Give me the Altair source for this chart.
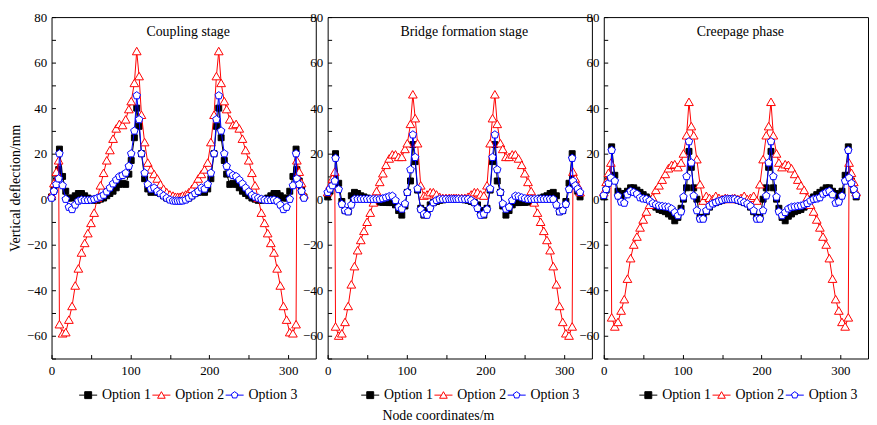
import altair as alt
import pandas as pd

FONT = "Liberation Serif"

NODE_X = [0, 3, 6, 9, 10, 14, 18, 22, 26, 30, 34, 38, 42, 46, 50, 54, 58, 62, 66, 70, 74, 78, 82, 86, 90, 94, 98,
          101, 105, 108, 111, 114, 118, 122, 126, 130, 134, 138, 142, 146, 150, 154, 157, 160,
          163, 166, 170, 174, 178, 182, 186, 190, 194, 198, 202, 206, 209, 212, 215, 219, 222, 226, 230, 234,
          238, 242, 246, 250, 254, 258, 262, 266, 270, 274, 278, 282, 286, 290, 294, 298, 302, 306, 310, 311,
          314, 317, 320]

# Coupling stage
P1_OPT1 = [1, 4, 8, 13, 22, 10, 3.5, 0.5, 0.5, 1.5, 2.5, 2.5, 1.5, 0.5, 0, -0.5, -0.5, 0, 0.5, 1.5, 2.5, 3.5, 5,
           6.5, 7, 6.5, 11, 17, 27, 40, 32, 20, 9, 4.5, 3, 3.5, 3, 2.5, 1.5, 0.5, 0, -0.3, -0.5,
           -0.5,
           -0.5, -0.3, 0, 0.5, 1.5, 2.5, 3, 3.5, 3, 4.5, 9, 20, 32, 40, 27, 17, 11, 6.5, 7, 6.5, 5, 3.5, 2.5, 1.5,
           0.5, 0, -0.5, -0.5, 0, 0.5, 1.5, 2.5, 2.5, 1.5, 0.5, 0.5, 3.5, 10, 22, 13, 8, 4, 1]
P1_OPT2 = [2, 7, 12, 17, -55, -59, -58.5, -53, -47, -38, -30.5, -23.5, -19.3, -15, -10.5, -6, 0.5, 6, 11.5, 17,
           21.5, 26.5, 31, 33, 32.5, 35, 39.5, 43, 51, 65, 54, 37, 25, 16, 13, 11, 9, 6.5, 4.5, 3, 2, 1.5, 1,
           1,
           1, 1.5, 2, 3, 4.5, 6.5, 9, 11, 13, 16, 25, 37, 54, 65, 51, 43, 39.5, 35, 32.5, 33, 31, 26.5, 21.5, 17,
           11.5, 6, 0.5, -6, -10.5, -15, -19.3, -23.5, -30.5, -38, -47, -53, -58.5, -59, -55, 17, 12, 7, 2]
P1_OPT3 = [0.5, 3.5, 6.5, 9, 20, 6, 0, -3.5, -4.5, -2.5, -0.8, -0.3, -0.5, -0.5, -0.3, 0, 0.5, 1, 1.8, 3.3, 5,
           6.8, 8.5, 10, 10.5, 11.5, 14.5, 20, 30, 45.5, 35, 20, 11.5, 6.5, 4.5, 5, 3.5, 2.5, 1.5, 0.5, -0.3,
           -0.7, -0.8,
           -0.8,
           -0.8, -0.7, -0.3, 0.5, 1.5, 2.5, 3.5, 5, 4.5, 6.5, 11.5, 20, 35, 45.5, 30, 20, 14.5, 11.5, 10.5, 10,
           8.5, 6.8, 5, 3.3, 1.8, 1, 0.5, 0, -0.3, -0.5, -0.5, -0.3, -0.8, -2.5, -4.5, -3.5, 0, 6, 20, 9, 6.5,
           3.5, 0.5]

# Bridge formation stage
P2_OPT1 = [1, 3.5, 7, 10, 20, 7, -1, -5, -5.5, 1.5, 3, 2.5, 1.5, 1, 0.5, 0, -0.5, -1, -1.3, -1.4, -1.4, -1.5,
           -1.5, -2.5, -5, -7, -3, 3, 8, 24, 16.5, 4, -4, -7, -5, -2.5, -1.5, -1, -0.5, -0.3, 0, 0, 0,
           0,
           0, 0, 0, -0.3, -0.5, -1, -1.5, -2.5, -5, -7, -4, 4, 16.5, 24, 8, 3, -3, -7, -5, -2.5, -1.5, -1.5,
           -1.4, -1.4, -1.3, -1, -0.5, 0, 0.5, 1, 1.5, 2.5, 3, 1.5, -5.5, -5, -1, 7, 20, 10, 7, 3.5, 1]
P2_OPT2 = [3, 6, 9, 12, -56, -60, -59, -54, -47, -37.5, -29.5, -22.5, -18, -14, -10, -6, -1.5, 3.5, 7.5, 11.3,
           15, 17.8, 19.6, 19.6, 18.5, 18.5, 22, 24.5, 33, 46, 35.5, 24.5, 6, 1.5, 2, 3, 3, 2, 1, 0.5, 0.5, 0.5,
           0.5,
           0.5,
           0.5, 0.5, 0.5, 0.5, 1, 2, 3, 3, 2, 1.5, 6, 24.5, 35.5, 46, 33, 24.5, 22, 18.5, 18.5, 19.6, 19.6, 17.8,
           15, 11.3, 7.5, 3.5, -1.5, -6, -10, -14, -18, -22.5, -29.5, -37.5, -47, -54, -59, -60, -56, 12, 9, 6, 3]
P2_OPT3 = [3, 4.5, 6, 8, 18, 4.3, -2.2, -5, -5.5, -2.5, 0, 0, 0, 0, 0, 0, 0, 0, 0, 0.3, 0.7, 1.2, 1.4, -0.5,
           -3.5, -4.3, -2, 3, 13, 28.3, 18.4, 4.6, -4.5, -6.5, -7, -4, -1.5, -0.5, 0, 0, 0, 0, 0,
           0,
           0, 0, 0, 0, 0, -0.5, -1.5, -4, -7, -6.5, -4.5, 4.6, 18.4, 28.3, 13, 3, -2, -4.3, -3.5, -0.5, 1.4, 1.2,
           0.7, 0.3, 0, 0, 0, 0, 0, 0, 0, 0, 0, -2.5, -5.5, -5, -2.2, 4.3, 18, 8, 6, 4.5, 3]

# Creepage phase
P3_OPT1 = [1, 4, 8, 10.5, 23, 10.5, 3.5, 0, 2.5, 3.5, 5, 5, 4, 3, 2, 1, 0, -1.5, -3.5, -4.5, -5, -5.5, -6.5,
           -7.5, -9.5, -8, -4, 0, 5, 21, 14, 5, 0, -8, -8, -5.5, -3.5, -2, -1.5, -1, -0.5, 0, 0,
           0,
           0, 0, -0.5, -1, -1.5, -2, -3.5, -5.5, -8, -8, 0, 5, 14, 21, 5, 0, -4, -8, -9.5, -7.5, -6.5, -5.5, -5,
           -4.5, -3.5, -1.5, 0, 1, 2, 3, 4, 5, 5, 3.5, 2.5, 0, 3.5, 10.5, 23, 10.5, 8, 4, 1]
P3_OPT2 = [3, 7.5, 11.5, 16, -52, -56, -54, -49, -44, -35, -26, -20, -16.5, -12.5, -9, -5.5, -2.5, 0.7, 4, 6,
           8.5, 11, 13.5, 15, 15.3, 14, 16, 20, 28, 42.7, 32, 28, 17.5, 6.5, -0.7, 1.4, 0.5, 0, 1.4, 0.5, 0, 0.5,
           0.3,
           0,
           0.3, 0.5, 0, 0.5, 1.4, 0, 0.5, 1.4, -0.7, 6.5, 17.5, 28, 32, 42.7, 28, 20, 16, 14, 15.3, 15, 13.5, 11,
           8.5, 6, 4, 0.7, -2.5, -5.5, -9, -12.5, -16.5, -20, -26, -35, -44, -49, -54, -56, -52, 16, 11.5, 7.5, 3]
P3_OPT3 = [1.7, 4.3, 7, 9.4, 21.5, 8, 1.4, -1.2, -1.7, 2, 3.5, 3, 2.3, 0.7, 0.2, 0, -0.7, -1.8, -2.4, -2.9,
           -3.1, -3.3, -3.5, -4.2, -5.8, -7.2, -5.5, 1, 10, 25.3, 16, 1.5, -5, -8.7, -8.7, -5, -3, -2, -1.4, -0.8,
           -0.4, 0, 0,
           0,
           0, 0, -0.4, -0.8, -1.4, -2, -3, -5, -8.7, -8.7, -5, 1.5, 16, 25.3, 10, 1, -5.5, -7.2, -5.8, -4.2,
           -3.5, -3.3, -3.1, -2.9, -2.4, -1.8, -0.7, 0, 0.2, 0.7, 2.3, 3, 3.5, 2, -1.7, -1.2, 1.4, 8, 21.5, 9.4,
           7, 4.3, 1.7]

PANEL_TITLES = ["Coupling stage", "Bridge formation stage", "Creepage phase"]
SERIES = ["Option 1", "Option 2", "Option 3"]
COLORS = ["#000000", "#ff0000", "#0000ff"]
FILLS = ["#000000", "#ffffff", "#ffffff"]
X_TICKS = [0, 50, 100, 150, 200, 250, 300]
Y_TICKS = [-70, -60, -50, -40, -30, -20, -10, 0, 10, 20, 30, 40, 50, 60, 70, 80]
LEGEND_X = [30, 36, 38]

SQ = "M-1,-1H1V1H-1Z"
TRI = "M0,-1L1.1,0.9H-1.1Z"
PENT = "M0,-1L0.951,-0.309L0.588,0.809L-0.588,0.809L-0.951,-0.309Z"
SHAPES = [SQ, TRI, PENT]
SIZES = [36, 64, 64]
LEG_SHAPES = ["M-2.6,0H-1M1,0H2.6" + SQ, "M-2.6,0H-0.58M0.58,0H2.6" + TRI, "M-2.6,0H-0.85M0.85,0H2.6" + PENT]

W, H = 267, 345


def panel(k, vals, first):
    frames = []
    for s, v in zip(SERIES, vals):
        assert len(v) == len(NODE_X), (s, len(v))
        frames.append(pd.DataFrame({"x": NODE_X, "y": v, "series": s, "order": list(range(len(NODE_X)))}))
    df = pd.concat(frames, ignore_index=True)
    base = alt.Chart(df)
    xenc = alt.X("x:Q", scale=alt.Scale(domain=[0, 335], nice=False, zero=False),
                 axis=alt.Axis(values=X_TICKS, labelExpr="datum.value % 100 == 0 ? datum.label : ''",
                               tickSize=4, offset=-4, domain=False, grid=False, labelPadding=6,
                               labelFlush=False, labelFont=FONT, labelFontSize=13, labelColor="#000"),
                 title=None)
    yaxis = alt.Axis(values=Y_TICKS, labelExpr="datum.value % 20 == 0 ? datum.label : ''",
                     tickSize=4, offset=-4, domain=False, grid=False, labelPadding=5, titlePadding=4,
                     labelFont=FONT, labelFontSize=13, labelColor="#000", titleFont=FONT,
                     titleFontSize=14, titleFontWeight="normal", titleColor="#000")
    yenc = alt.Y("y:Q", scale=alt.Scale(domain=[-70, 80], nice=False, zero=False), axis=yaxis,
                 title="Vertical deflection/mm" if first else None)
    layers = []
    for s, c, f, sh, sz in zip(SERIES, COLORS, FILLS, SHAPES, SIZES):
        sub = base.transform_filter(alt.datum.series == s)
        layers.append(sub.mark_line(color=c, strokeWidth=1).encode(x=xenc, y=yenc, order="order:Q"))
        layers.append(sub.mark_point(shape=sh, filled=True, fill=f, stroke=c, strokeWidth=1, size=sz,
                                     opacity=1).encode(x=xenc, y=yenc))
    ttl = alt.Chart(pd.DataFrame({"t": [PANEL_TITLES[k]]})).mark_text(
        font=FONT, fontSize=14, color="#000", baseline="middle", align="center"
    ).encode(text="t:N", x=alt.value(138), y=alt.value(15))
    leg = alt.Legend(orient="none", legendX=LEGEND_X[k], legendY=375, direction="horizontal", title=None,
                     labelFont=FONT, labelFontSize=14, labelColor="#000", symbolSize=49,
                     symbolStrokeWidth=1, symbolOpacity=1, labelOffset=7, columnPadding=-2, padding=0,
                     labelLimit=0)
    legend_layer = base.transform_filter("false").mark_point(filled=True, opacity=1, size=49).encode(
        shape=alt.Shape("series:N", scale=alt.Scale(domain=SERIES, range=LEG_SHAPES), legend=leg),
        stroke=alt.Stroke("series:N", scale=alt.Scale(domain=SERIES, range=COLORS), legend=leg),
        fill=alt.Fill("series:N", scale=alt.Scale(domain=SERIES, range=FILLS), legend=leg),
    )
    return alt.layer(*layers, ttl, legend_layer).properties(width=W, height=H)


p1 = panel(0, [P1_OPT1, P1_OPT2, P1_OPT3], True)
p2 = panel(1, [P2_OPT1, P2_OPT2, P2_OPT3], False)
p3 = panel(2, [P3_OPT1, P3_OPT2, P3_OPT3], False)

chart = alt.hconcat(
    p1, p2, p3, spacing=12, bounds="flush",
    title=alt.TitleParams("Node coordinates/m", orient="bottom", anchor="middle", font=FONT, fontSize=14,
                          fontWeight="normal", color="#000", offset=7),
).resolve_scale(
    shape="independent", stroke="independent", fill="independent"
).resolve_legend(
    shape="independent", stroke="independent", fill="independent"
).properties(
    padding={"left": 0, "top": 0, "right": 0, "bottom": 0}, background="white"
).configure_view(
    stroke="#000000", strokeWidth=1
).configure_axis(
    labelFont=FONT, labelFontSize=13, labelColor="#000", tickColor="#000", tickWidth=1,
    titleFont=FONT, titleFontSize=14, titleFontWeight="normal", titleColor="#000"
)

chart.save("out.html", embed_options={"renderer": "svg", "actions": False})
